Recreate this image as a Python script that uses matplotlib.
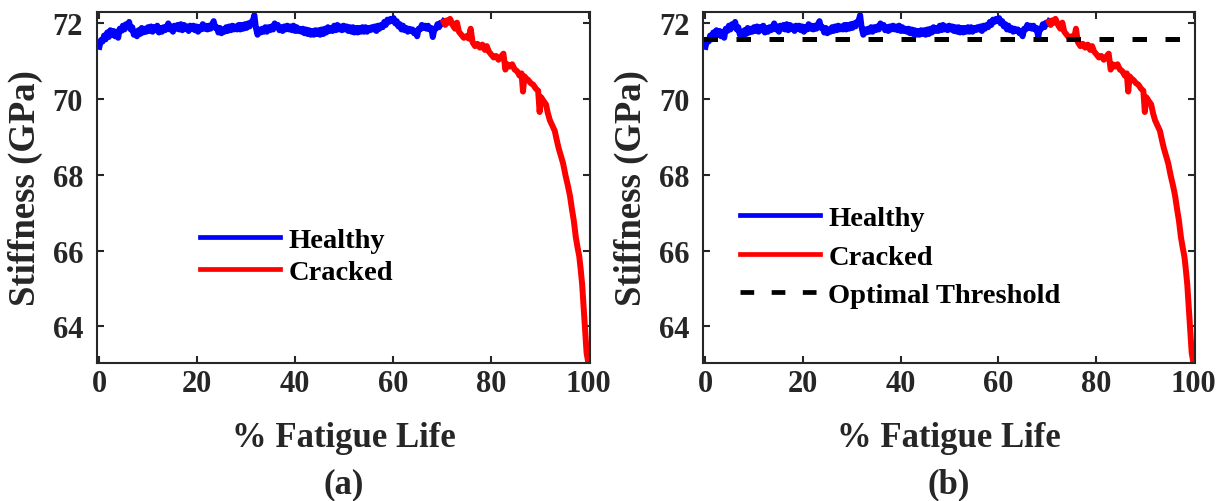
import matplotlib
matplotlib.use('Agg')
import matplotlib.pyplot as plt
import numpy as np

# 字體設定: Times 風格粗體
plt.rcParams['font.family'] = ['Liberation Serif', 'DejaVu Serif']
plt.rcParams['font.weight'] = 'bold'

# healthy stiffness (GPa), evenly spaced from 0 to 70.4 % life
healthy_y = [
    71.38, 71.56, 71.52, 71.68, 71.58, 71.76, 71.64, 71.82, 71.70, 71.80,
    71.66, 71.78, 71.62, 71.86, 71.80, 71.94, 71.84, 71.98, 71.90, 72.04,
    71.84, 71.90, 71.70, 71.78, 71.66, 71.82, 71.72, 71.88, 71.76, 71.86,
    71.78, 71.90, 71.80, 71.92, 71.78, 71.90, 71.82, 71.94, 71.76, 71.88,
    71.78, 71.90, 71.82, 71.92, 72.00, 71.84, 71.92, 71.78, 71.94, 71.86,
    71.96, 71.84, 71.98, 71.82, 71.96, 71.86, 71.92, 71.80, 71.94, 71.86,
    71.94, 71.82, 71.92, 71.78, 71.90, 71.84, 71.98, 71.86, 71.94, 71.84,
    71.94, 71.86, 71.98, 72.06, 71.88, 71.90, 71.76, 71.88, 71.74, 71.84,
    71.78, 71.90, 71.80, 71.92, 71.82, 71.94, 71.84, 71.92, 71.84, 71.96,
    71.84, 71.96, 71.86, 71.98, 71.88, 72.00, 71.92, 72.04, 72.06, 72.22,
    71.88, 71.70, 71.84, 71.76, 71.86, 71.78, 71.90, 71.78, 71.90, 71.82,
    71.92, 71.84, 72.00, 71.94, 71.96, 71.82, 71.90, 71.80, 71.92, 71.84,
    71.94, 71.84, 71.92, 71.82, 71.94, 71.80, 71.90, 71.80, 71.86, 71.78,
    71.86, 71.74, 71.84, 71.72, 71.82, 71.70, 71.80, 71.70, 71.82, 71.72,
    71.82, 71.70, 71.84, 71.72, 71.86, 71.76, 71.90, 71.80, 71.88, 71.80,
    71.94, 71.82, 71.96, 71.84, 71.92, 71.82, 71.94, 71.84, 71.92, 71.80,
    71.90, 71.78, 71.90, 71.76, 71.88, 71.76, 71.88, 71.78, 71.90, 71.78,
    71.90, 71.78, 71.88, 71.82, 71.90, 71.84, 71.92, 71.80, 71.94, 71.86,
    71.96, 71.90, 72.04, 71.96, 72.10, 72.04, 72.12, 72.06, 72.14, 72.00,
    72.06, 71.92, 71.98, 71.84, 71.94, 71.82, 71.88, 71.78, 71.86, 71.80,
    71.84, 71.74, 71.80, 71.66, 71.86, 71.84, 71.96, 71.88, 71.94, 71.86,
    71.94, 71.84, 71.88, 71.64, 71.84, 71.86, 71.98, 71.90, 72.02, 71.98,
    72.06]
healthy_end = 70.4

# cracked part
cracked_x = [70.4, 70.7, 71.0, 71.4, 71.7, 71.9, 72.3, 72.7, 73.1, 73.5, 74.0, 74.5, 75.0, 75.5,
             75.9, 76.3, 76.8, 77.3, 77.8, 78.3, 78.8, 79.2, 79.6, 80.1, 80.6, 81.1, 81.6, 82.1,
             82.6, 83.0, 83.4, 83.9, 84.4, 84.9, 85.4, 85.9, 86.3, 86.6, 86.9, 87.3, 87.7, 88.2,
             88.7, 89.2, 89.7, 90.0, 90.3, 90.8, 91.3, 91.7, 92.1, 92.6, 93.1, 93.5, 93.9, 94.4,
             94.8, 95.3, 95.8, 96.2, 96.6, 97.0, 97.4, 97.8, 98.1, 98.4, 98.7, 99.0, 99.3, 99.6,
             100.0]
cracked_y = [72.04, 71.96, 72.08, 72.02, 72.12, 72.06, 71.94, 71.86, 72.02, 71.78, 71.70, 71.62,
             71.66, 71.60, 71.86, 71.50, 71.40, 71.46, 71.36, 71.44, 71.30, 71.40, 71.26, 71.18,
             71.10, 71.14, 71.04, 71.12, 71.20, 70.78, 70.92, 70.86, 70.92, 70.78, 70.74, 70.62,
             70.68, 70.20, 70.60, 70.54, 70.50, 70.42, 70.38, 70.28, 70.22, 69.66, 70.05, 69.95,
             69.86, 69.62, 69.44, 69.30, 69.16, 68.92, 68.70, 68.48, 68.30, 67.98, 67.70, 67.45,
             67.10, 66.78, 66.35, 66.05, 65.85, 65.50, 65.10, 64.50, 63.90, 63.30, 63.00]

threshold = 71.58
x_ticks = [0, 20, 40, 60, 80, 100]
y_ticks = [64, 66, 68, 70, 72]
panel_labels = ['(a)', '(b)']

healthy_x = np.linspace(0, healthy_end, len(healthy_y))
frame_col = '#262626'

fig = plt.figure(figsize=(12.18, 5.02), dpi=100)
ax_a = fig.add_axes([0.0796, 0.275, 0.4048, 0.699])
ax_b = fig.add_axes([0.5772, 0.275, 0.404, 0.699])

for i, ax in enumerate([ax_a, ax_b]):
    ax.plot(healthy_x, healthy_y, color='#0000ff', lw=4.3, label='Healthy')
    ax.plot(cracked_x, cracked_y, color='#ff0000', lw=4.3, label='Cracked')
    if i == 1:
        ax.axhline(threshold, color='black', lw=3.6, dashes=(2.9, 3.7), label='Optimal Threshold')

    ax.set_xlim(-0.5, 100.3)
    ax.set_ylim(63.03, 72.3)
    ax.set_xticks(x_ticks)
    ax.set_yticks(y_ticks)
    ax.tick_params(direction='in', length=5, width=1.5, colors=frame_col,
                   top=True, right=True, labelsize=22)
    ax.tick_params(axis='x', pad=4)
    ax.tick_params(axis='y', pad=10)
    for lbl in ax.get_xticklabels() + ax.get_yticklabels():
        lbl.set_fontweight('bold')
        lbl.set_color(frame_col)
    for sp in ax.spines.values():
        sp.set_color(frame_col)
        sp.set_linewidth(1.5)

    ax.set_xlabel('% Fatigue Life', fontsize=25, fontweight='bold', color=frame_col)
    ax.set_ylabel('Stiffness (GPa)', fontsize=26.5, fontweight='bold', color=frame_col)
    ax.xaxis.set_label_coords(0.5, -0.165)
    ax.yaxis.set_label_coords(-0.11, 0.5)

    ax.text(0.5, -0.345, panel_labels[i], transform=ax.transAxes, ha='center', va='center',
            fontsize=25, fontweight='bold', color=frame_col)

leg_a = ax_a.legend(loc='center left', bbox_to_anchor=(0.209, 0.305), frameon=False,
                    fontsize=20.5, handlelength=2.8, handletextpad=0.3, labelspacing=0.2,
                    borderpad=0, borderaxespad=0)
leg_b = ax_b.legend(loc='center left', bbox_to_anchor=(0.075, 0.303), frameon=False,
                    fontsize=20.5, handlelength=2.8, handletextpad=0.3, labelspacing=0.45,
                    borderpad=0, borderaxespad=0)
for leg in (leg_a, leg_b):
    for h in leg.legend_handles:
        h.set_linewidth(3.4)

fig.savefig('out.png', dpi=100)
